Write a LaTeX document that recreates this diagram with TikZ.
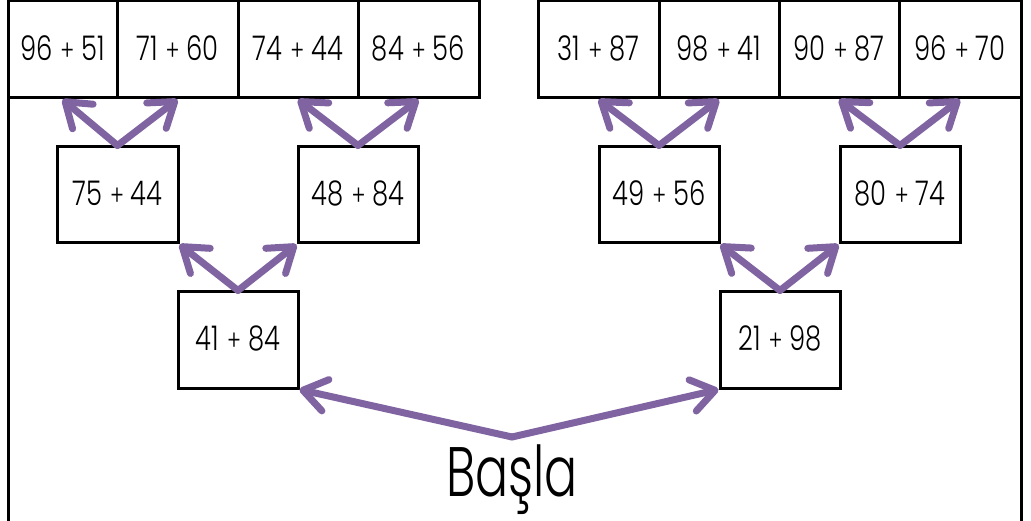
\documentclass[tikz,border=0pt]{standalone}
\usepackage{fontspec}
\setmainfont{Poppins Light}[FakeStretch=0.76]
\newfontfamily\labelfont{Poppins Light}[FakeStretch=0.70]
\usetikzlibrary{arrows.meta}
\definecolor{arrowpurple}{HTML}{8064A2}
\newcommand\pl{\hspace{8pt}{\fontsize{28}{28}\selectfont +}\hspace{7pt}}
\begin{document}
\begin{tikzpicture}[x=1pt,y=-1pt,
  cell/.style={draw=black,line width=3pt,inner sep=0pt,font=\fontsize{34}{34}\selectfont},
  parr/.style={draw=arrowpurple,line width=7pt,line cap=round,line join=round,
    -{Straight Barb[length=23pt,width=32pt,round]}},
  label/.style={font=\labelfont\fontsize{70}{70}\selectfont}]
\useasboundingbox (0,0) rectangle (1031,521);
% frame sides
\coordinate (fl1) at (8,0); \coordinate (fl2) at (8,521);
\coordinate (fr1) at (1021,0); \coordinate (fr2) at (1021,521);
\draw[line width=3pt] (fl1) -- (fl2);
\draw[line width=3pt] (fr1) -- (fr2);
\newcommand\cellat[6]{\node[cell,minimum width=#3-#2,minimum height=#5-#4] (#1) at ({(#2+#3)/2},{(#4+#5)/2}) {\raisebox{3pt}{#6}};}
% top row
\cellat{t1}{8}{117}{1}{98}{96\pl 51}
\cellat{t2}{117}{238}{1}{98}{71\pl 60}
\cellat{t3}{238}{358}{1}{98}{74\pl 44}
\cellat{t4}{358}{479}{1}{98}{84\pl 56}
\cellat{t5}{538}{659}{1}{98}{31\pl 87}
\cellat{t6}{659}{779}{1}{98}{98\pl 41}
\cellat{t7}{779}{899}{1}{98}{90\pl 87}
\cellat{t8}{899}{1021}{1}{98}{96\pl 70}
% middle row
\cellat{m1}{57}{178}{147}{243}{75\pl 44}
\cellat{m2}{298}{418}{147}{243}{48\pl 84}
\cellat{m3}{599}{719}{147}{243}{49\pl 56}
\cellat{m4}{840}{960}{147}{243}{80\pl 74}
% bottom row
\cellat{b1}{178}{298}{292}{388}{41\pl 84}
\cellat{b2}{720}{840}{292}{388}{21\pl 98}
% start
\coordinate (apex) at (512,437);
\node[label,anchor=base,inner sep=0pt] (start) at (512,496) {Başla};
% arrows
\draw[parr] (m1.north) -- (t1.south);
\draw[parr] (m1.north) -- (t2.south);
\draw[parr] (m2.north) -- (t3.south);
\draw[parr] (m2.north) -- (t4.south);
\draw[parr] (m3.north) -- (t5.south);
\draw[parr] (m3.north) -- (t6.south);
\draw[parr] (m4.north) -- (t7.south);
\draw[parr] (m4.north) -- (t8.south);
\draw[parr] (b1.north) -- (m1.south east);
\draw[parr] (b1.north) -- (m2.south west);
\draw[parr] (b2.north) -- (m3.south east);
\draw[parr] (b2.north) -- (m4.south west);
\draw[parr] (apex) -- (b1.south east);
\draw[parr] (apex) -- (b2.south west);
\end{tikzpicture}
\end{document}
